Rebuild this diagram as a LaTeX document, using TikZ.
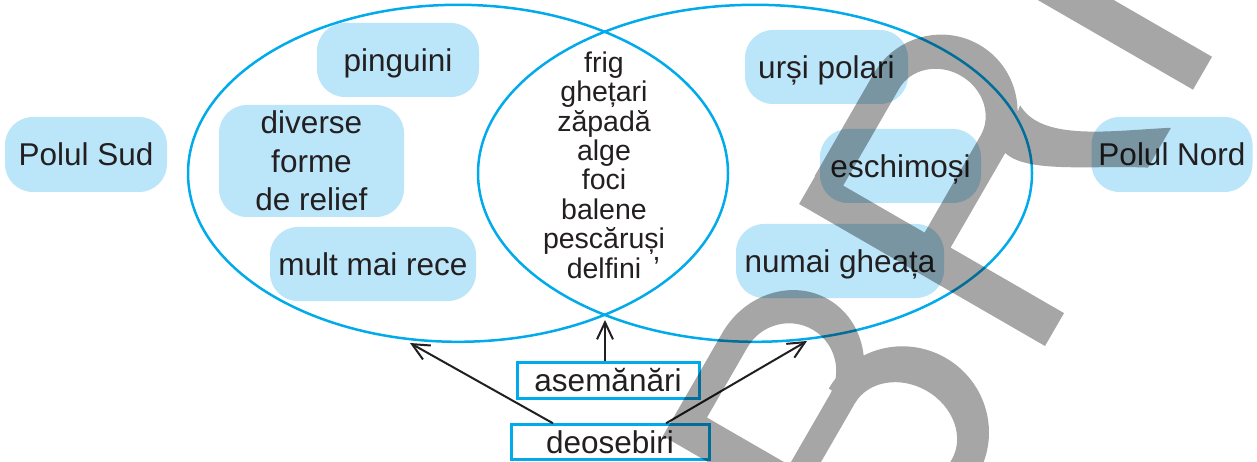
\documentclass[tikz,border=0pt]{standalone}
\usepackage{fontspec}
\setmainfont{Liberation Sans}
\usetikzlibrary{arrows.meta}
\definecolor{cyanline}{RGB}{0,170,235}
\definecolor{boxfill}{RGB}{187,229,249}
\definecolor{ink}{RGB}{35,31,32}
\begin{document}
\begin{tikzpicture}[x=1pt,y=-1pt,
  txt/.style={text=ink, font=\fontsize{31.5}{38.5}\selectfont},
  oneline/.style={text height=22.6pt, text depth=0pt},
  blob/.style={txt, fill=boxfill, rounded corners=28pt, inner sep=0pt, align=center},
  framebox/.style={txt, oneline, draw=cyanline, line width=3pt, fill=white, inner sep=0pt},
  venn/.style={draw=cyanline, line width=2.5pt},
  arr/.style={draw=ink, line width=2pt, -{Straight Barb[length=17pt,width=16pt]}},
  wmshape/.style={fill=black, fill opacity=0.35}]
\useasboundingbox (0,0) rectangle (1257,462);
\fill[white] (0,0) rectangle (1257,462);

% boxes
\node[blob, oneline, minimum width=162pt, minimum height=75pt] (sud) at (86,154.5) {Polul Sud};
\node[blob, oneline, minimum width=162pt, minimum height=74pt] (ping) at (398,60) {pinguini};
\node[blob, minimum width=185pt, minimum height=112pt] (rel) at (311.5,161) {diverse\\forme\\de relief};
\node[blob, oneline, minimum width=206pt, minimum height=74pt] (rece) at (373,264) {mult mai rece};
\node[blob, oneline, minimum width=163pt, minimum height=74pt] (ursi) at (826.5,67) {urși polari};
\node[blob, oneline, minimum width=161pt, minimum height=74pt] (esc) at (900.5,166) {eschimoși};
\node[blob, oneline, minimum width=208pt, minimum height=74pt] (gh) at (840,261) {numai gheața};
\node[blob, oneline, minimum width=161pt, minimum height=75pt] (nord) at (1172,154.5) {Polul Nord};

% venn ellipses
\draw[venn] (458,173.3) ellipse [x radius=270, y radius=168.5];
\draw[venn] (755,173.3) ellipse [x radius=277, y radius=168.5];

% common text
\node[text=ink, align=center, inner sep=0pt, font=\fontsize{28.5}{29.4}\selectfont] (common) at (604,165)
  {frig\\ghețari\\zăpadă\\alge\\foci\\balene\\pescăruși\\delfini\rlap{\hspace{0.4em}\raisebox{0.62em}{,}}};

% bottom labels
\node[framebox, minimum width=182pt, minimum height=36pt] (asem) at (608,380) {asemănări};
\node[framebox, minimum width=198pt, minimum height=35pt] (deos) at (610,442.3) {deosebiri};

% arrows
\coordinate (tipM) at (605,320);
\coordinate (tipL) at (410,343);
\coordinate (tipR) at (807,341);
\draw[arr] (asem.north -| tipM) -- (tipM);
\draw[arr] ([xshift=-57pt]deos.north) -- (tipL);
\draw[arr] ([xshift=56pt]deos.north) -- (tipR);

% watermark (rotated letters), drawn as one filled path
\begin{scope}
\clip (0,0) rectangle (1257,462);
\begin{scope}[shift={(1045,346)}, x={(0.5pt,0.866pt)}, y={(-0.866pt,0.5pt)}]
\fill[wmshape]
  % B
  (-269,0) -- (-231,0) -- (-231,286) -- (-269,286) -- cycle
  (-235,257) -- (-147,257) -- (-147,286) -- (-235,286) -- cycle
  (-235,136) -- (-147,136) -- (-147,162) -- (-235,162) -- cycle
  (-235,0) -- (-143,0) -- (-143,24) -- (-235,24) -- cycle
  (-150,136) arc[start angle=-90, end angle=90, x radius=82, y radius=75]
     -- (-150,257) arc[start angle=90, end angle=-90, x radius=48, y radius=47.5] -- cycle
  (-145,-6) arc[start angle=-90, end angle=90, x radius=85, y radius=86]
     -- (-145,136) arc[start angle=90, end angle=-90, x radius=47, y radius=56] -- cycle
  % R
  (0,0) -- (38,0) -- (38,284) -- (0,284) -- cycle
  (32,255) -- (153,255) -- (153,284.5) -- (32,284.5) -- cycle
  (32,131) -- (153,131) -- (153,161) -- (32,161) -- cycle
  (150,130.5) arc[start angle=-90, end angle=90, x radius=78, y radius=77]
     -- (150,255) arc[start angle=90, end angle=-90, x radius=42, y radius=47] -- cycle
  (148,133) .. controls (138,105) and (180,50) .. (206,0) -- (252,0)
     .. controls (220,50) and (175,105) .. (196,142) -- cycle
  % I
  (296,0) -- (334,0) -- (334,286) -- (296,286) -- cycle;
\end{scope}
\end{scope}
\end{tikzpicture}
\end{document}
